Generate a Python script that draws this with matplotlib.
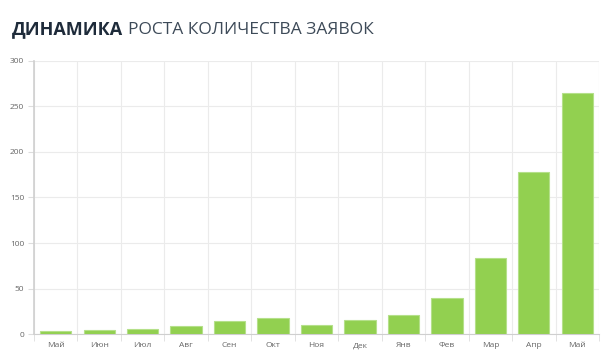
import numpy as np
import matplotlib.pyplot as plt

plt.rcParams['font.family'] = ['Open Sans', 'DejaVu Sans']

months = ['Май', 'Июн', 'Июл', 'Авг', 'Сен', 'Окт', 'Ноя', 'Дек', 'Янв', 'Фев', 'Мар', 'Апр', 'Май']
requests = [3, 4, 6, 9, 14, 18, 10, 15, 21, 40, 84, 178, 265]
y_ticks = [0, 50, 100, 150, 200, 250, 300]

fig = plt.figure(figsize=(6.04, 3.60), dpi=100)
ax = fig.add_axes([0.0563, 0.0722, 0.9354, 0.7584])

x = np.arange(len(months))
ax.bar(x, requests, width=0.72, color='#92d050', edgecolor='#b5e08a', linewidth=0.8, zorder=3)

ax.set_xlim(-0.5, len(months) - 0.5)
ax.set_ylim(0, 300)
ax.set_yticks(y_ticks)
ax.set_xticks(x)
ax.set_xticklabels(months)
ax.set_xticks(np.arange(-0.5, len(months)), minor=True)

# grid
ax.grid(axis='y', color='#ebebeb', linewidth=0.8, zorder=0)
ax.grid(axis='x', which='minor', color='#ebebeb', linewidth=0.8, zorder=0)
ax.grid(axis='x', which='major', visible=False)

for side in ['top', 'right']:
    ax.spines[side].set_visible(False)
ax.spines['left'].set_color('#cfcfcf')
ax.spines['bottom'].set_color('#cfcfcf')
ax.spines['left'].set_linewidth(1.2)

ax.tick_params(axis='x', which='major', length=0, pad=6, labelsize=6, labelcolor='#666666')
ax.tick_params(axis='x', which='minor', length=5, color='#dddddd')
ax.tick_params(axis='y', length=4, color='#dddddd', labelsize=6, labelcolor='#666666', pad=3)

# title: bold part + regular part
t1 = fig.text(0.02, 0.905, 'ДИНАМИКА', fontsize=13, fontweight='bold', color='#1e2b3a')
fig.canvas.draw()
bb = t1.get_window_extent()
x2 = bb.x1 / fig.bbox.width + 0.008
fig.text(x2, 0.905, 'РОСТА КОЛИЧЕСТВА ЗАЯВОК', fontsize=12.5, color='#3d4a58')

plt.savefig('out.png', dpi=100)
